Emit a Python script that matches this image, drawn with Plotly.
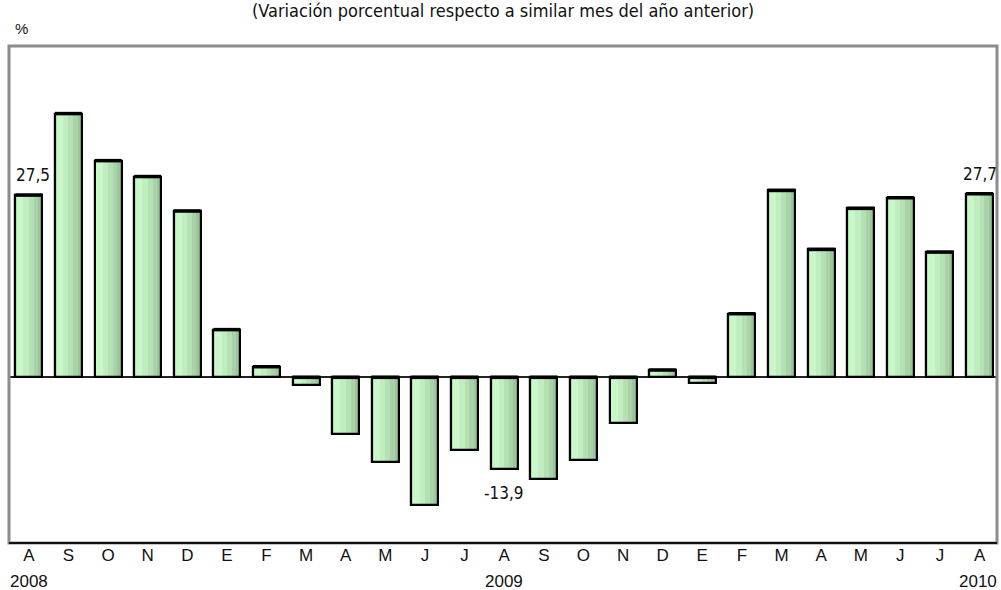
import plotly.graph_objects as go

# Monthly year-over-year change, Aug 2008 – Aug 2010
months = ["A", "S", "O", "N", "D", "E", "F", "M", "A", "M", "J", "J", "A",
          "S", "O", "N", "D", "E", "F", "M", "A", "M", "J", "J", "A"]
values = [27.5, 39.8, 32.7, 30.3, 25.1, 7.2, 1.6, -1.2, -8.5, -12.8, -19.2, -11.0, -13.9,
          -15.3, -12.4, -6.9, 1.1, -0.8, 9.6, 28.2, 19.3, 25.5, 27.1, 18.9, 27.7]
year_labels = {0: "2008", 12: "2009", 24: "2010"}
labelled = [0, 12, 24]

x = list(range(len(months)))
BAR_W = 0.68
NARROW = "Liberation Sans Narrow, Arial Narrow, DejaVu Sans Condensed"

fig = go.Figure()

# Vertical stripes give each column a left-to-right shading
stripes = [
    (0.00, 0.07, "#b0dcb0"),
    (0.07, 0.30, "#c9f7c9"),
    (0.30, 0.50, "#c0eec0"),
    (0.50, 0.68, "#b4e0b4"),
    (0.68, 0.84, "#a8d3a8"),
    (0.84, 1.00, "#9cc59c"),
]
for start, end, color in stripes:
    fig.add_trace(go.Bar(
        x=x, y=values,
        width=BAR_W * (end - start) + 0.002,
        offset=-BAR_W / 2 + BAR_W * start,
        marker=dict(color=color, line=dict(width=0)),
        hoverinfo="skip", showlegend=False,
    ))

# Black outline on top of the shading
fig.add_trace(go.Bar(
    x=x, y=values, width=BAR_W,
    marker=dict(color="rgba(0,0,0,0)", line=dict(color="black", width=2.2)),
    showlegend=False,
))

# Heavier cap along the upper edge of every column
cap_x, cap_y = [], []
for xi, v in zip(x, values):
    top = max(v, 0)
    cap_x += [xi - BAR_W / 2, xi + BAR_W / 2, None]
    cap_y += [top, top, None]
fig.add_trace(go.Scatter(
    x=cap_x, y=cap_y, mode="lines",
    line=dict(color="black", width=3.5),
    hoverinfo="skip", showlegend=False,
))

def fmt(v):
    return f"{v:.1f}".replace(".", ",")

label_font = dict(family=NARROW, size=17, color="#111")
annotations = []
for i in labelled:
    v = values[i]
    annotations.append(dict(
        x=i, y=v, xref="x", yref="y", text=fmt(v), showarrow=False,
        font=label_font,
        yanchor="bottom" if v >= 0 else "top",
        yshift=8 if v >= 0 else -12,
        xshift=4 if i == 0 else 0,
    ))

tick_font = dict(family="Liberation Sans, Arial, sans-serif", size=17, color="#111")
for i, yr in year_labels.items():
    annotations.append(dict(
        x=i, y=0, xref="x", yref="paper", text=yr, showarrow=False,
        font=tick_font, yanchor="top", yshift=-27,
        xshift=-2 if i == 24 else 0,
    ))

annotations.append(dict(
    x=0.5, y=1, xref="paper", yref="paper", xanchor="center", yanchor="bottom",
    text="(Variación porcentual respecto a similar mes del año anterior)",
    showarrow=False, yshift=23,
    font=dict(family=NARROW, size=18, color="#111"),
))
annotations.append(dict(
    x=0, y=1, xref="paper", yref="paper", xanchor="left", yanchor="bottom",
    text="%", showarrow=False, yshift=7, xshift=4,
    font=dict(family="Liberation Sans, Arial, sans-serif", size=15, color="#111"),
))

fig.update_layout(
    width=1001, height=590,
    margin=dict(l=9, r=4, t=46, b=47),
    paper_bgcolor="white", plot_bgcolor="white",
    barmode="overlay", bargap=0,
    xaxis=dict(range=[-0.5, 24.44], tickmode="array", tickvals=x, ticktext=months,
               showgrid=False, zeroline=False, showline=False, ticks="",
               tickfont=tick_font, fixedrange=True),
    yaxis=dict(range=[-25, 50], showgrid=False, showticklabels=False, ticks="",
               zeroline=True, zerolinecolor="#222", zerolinewidth=1.5,
               showline=False, fixedrange=True),
    annotations=annotations,
    shapes=[
        dict(type="rect", xref="paper", yref="paper", x0=0, x1=1, y0=0, y1=1,
             line=dict(color="#8c8c8c", width=3), layer="above"),
        dict(type="line", xref="paper", yref="paper", x0=0, x1=1, y0=0, y1=0,
             line=dict(color="#111", width=2), layer="above"),
    ],
    showlegend=False,
)

fig.write_html("out.html")
